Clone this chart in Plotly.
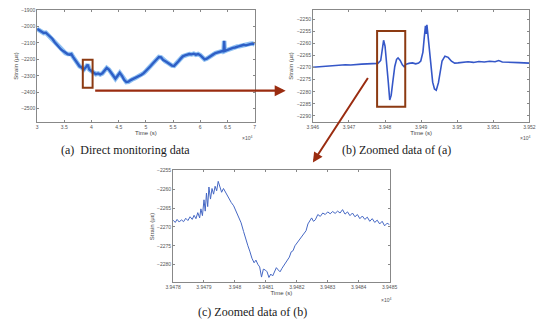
import plotly.graph_objects as go

# ---------------- data ----------------
# (a) direct monitoring data
t_a = [30000, 30400, 30800, 31200, 31600, 32000, 32400, 32800, 33200, 33600, 34000, 34400,
       34800, 35200, 35600, 36000, 36300, 36600, 37000, 37400, 37800, 38200, 38600, 39000,
       39300, 39600, 40000, 40400, 40800, 41200, 41600, 42000, 42400, 42800, 43200, 43600,
       44000, 44400, 44800, 45200, 45600, 46000, 46400, 46800, 47200, 47600, 48000, 48400,
       48800, 49200, 49600, 50000, 50400, 50800, 51200, 51600, 52000, 52400, 52800, 53200,
       53600, 54000, 54400, 54800, 55200, 55600, 56000, 56400, 56800, 57200, 57600, 58000,
       58400, 58800, 59200, 59600, 60000, 60400, 60800, 61200, 61600, 62000, 62400, 62800,
       63200, 63600, 64000, 64300, 64400, 64450, 64500, 64800, 65200, 65600, 66000, 66400,
       66800, 67200, 67600, 68000, 68400, 68800, 69200, 69600, 70000]
s_a = [-2015, -2022, -2030, -2040, -2038, -2052, -2060, -2075, -2095, -2112, -2122, -2140,
       -2150, -2162, -2168, -2172, -2168, -2185, -2205, -2228, -2242, -2250, -2262, -2246,
       -2232, -2262, -2272, -2282, -2290, -2286, -2292, -2285, -2268, -2252, -2262, -2280,
       -2302, -2318, -2300, -2282, -2300, -2325, -2338, -2336, -2326, -2320, -2315, -2308,
       -2302, -2294, -2284, -2272, -2258, -2244, -2228, -2212, -2196, -2186, -2188, -2205,
       -2212, -2220, -2232, -2238, -2240, -2228, -2212, -2196, -2182, -2176, -2172, -2168,
       -2170, -2166, -2172, -2168, -2175, -2188, -2200, -2196, -2186, -2180, -2170, -2162,
       -2158, -2155, -2150, -2148, -2088, -2140, -2150, -2146, -2140, -2136, -2130, -2128,
       -2122, -2120, -2116, -2112, -2115, -2110, -2106, -2104, -2108]

# (b) zoomed data of (a)
t_b = [39460.0, 39461.5, 39463.0, 39464.5, 39466.0, 39467.5, 39469.0, 39470.5, 39472.0, 39473.5,
       39475.0, 39476.5, 39478.0, 39478.8, 39479.3, 39479.6, 39480.0, 39480.4, 39480.9, 39481.3,
       39481.7, 39482.1, 39482.7, 39483.2, 39483.6, 39484.2, 39484.8, 39485.3, 39485.8, 39486.6,
       39487.6, 39488.5, 39489.3, 39489.9, 39490.5, 39490.9, 39491.2, 39491.4, 39491.6, 39491.8,
       39492.0, 39492.3, 39492.7, 39493.2, 39493.7, 39494.2, 39494.8, 39495.3, 39495.8, 39496.6,
       39497.5, 39498.4, 39499.3, 39500.2, 39501.5, 39503.0, 39504.5, 39506.0, 39507.5, 39509.0,
       39510.5, 39511.5, 39512.5, 39514.0, 39515.5, 39517.0, 39518.5, 39520.0]
s_b = [-2269.8, -2269.6, -2269.4, -2269.5, -2269.1, -2269.0, -2268.8, -2268.9, -2268.6, -2268.5,
       -2268.4, -2268.3, -2268.2, -2267.0, -2262.0, -2258.6, -2261.0, -2266.5, -2276.0, -2283.4,
       -2281.5, -2276.5, -2269.5, -2266.5, -2265.9, -2267.0, -2268.8, -2269.6, -2268.6, -2268.2,
       -2268.0, -2268.4, -2268.1, -2267.2, -2263.5, -2257.0, -2252.6, -2256.0, -2252.2, -2255.0,
       -2258.0, -2263.5, -2270.0, -2276.0, -2278.8, -2279.3, -2276.2, -2271.0, -2267.2, -2265.2,
       -2265.7, -2267.3, -2268.1, -2268.0, -2267.7, -2267.5, -2267.8, -2267.4, -2267.6, -2267.3,
       -2267.5, -2267.0, -2267.6, -2267.8, -2267.7, -2267.9, -2268.0, -2268.1]

# (c) zoomed data of (b)
t_c = [39478.00, 39478.07, 39478.13, 39478.20, 39478.27, 39478.34, 39478.41, 39478.48, 39478.55,
       39478.62, 39478.68, 39478.74, 39478.80, 39478.86, 39478.90, 39478.95, 39479.00, 39479.04,
       39479.08, 39479.12, 39479.16, 39479.21, 39479.26, 39479.31, 39479.36, 39479.41, 39479.46,
       39479.52, 39479.57, 39479.63, 39479.68, 39479.73, 39479.80, 39479.88, 39479.96, 39480.04,
       39480.12, 39480.20, 39480.28, 39480.35, 39480.42, 39480.48, 39480.55, 39480.62, 39480.68,
       39480.74, 39480.80, 39480.86, 39480.92, 39480.98, 39481.04, 39481.10, 39481.16, 39481.22,
       39481.28, 39481.34, 39481.40, 39481.46, 39481.52, 39481.58, 39481.64, 39481.70, 39481.76,
       39481.82, 39481.88, 39481.94, 39482.00, 39482.06, 39482.12, 39482.18, 39482.24, 39482.30,
       39482.36, 39482.42, 39482.48, 39482.54, 39482.60, 39482.68, 39482.76, 39482.84, 39482.92,
       39483.00, 39483.08, 39483.16, 39483.24, 39483.32, 39483.40, 39483.48, 39483.56, 39483.64,
       39483.72, 39483.80, 39483.88, 39483.96, 39484.04, 39484.12, 39484.20, 39484.28, 39484.36,
       39484.44, 39484.52, 39484.60, 39484.68, 39484.76, 39484.84, 39484.92, 39485.00]
s_c = [-2268.2, -2268.8, -2268.0, -2268.7, -2268.1, -2268.6, -2267.7, -2268.3, -2267.3, -2268.0,
       -2266.9, -2267.8, -2266.2, -2267.6, -2265.2, -2267.0, -2262.8, -2265.8, -2261.0, -2264.6,
       -2259.4, -2262.6, -2259.8, -2261.3, -2259.2, -2260.4, -2257.9, -2259.9, -2260.8, -2259.8,
       -2260.6, -2261.4, -2262.3, -2263.5, -2264.4, -2266.0, -2267.4, -2268.9, -2271.2, -2273.3,
       -2275.0, -2276.4, -2278.3, -2279.5, -2278.8, -2279.9, -2280.6, -2283.3, -2281.2, -2281.4,
       -2281.9, -2283.4, -2282.5, -2283.0, -2281.7, -2280.8, -2281.4, -2281.9, -2281.0, -2280.2,
       -2279.6, -2278.5, -2278.0, -2276.6, -2276.3, -2275.0, -2274.3, -2273.6, -2272.8, -2272.4,
       -2271.4, -2271.0, -2269.2, -2268.4, -2267.6, -2268.5, -2268.1, -2266.7, -2267.2, -2266.3,
       -2266.7, -2266.0, -2266.5, -2265.9, -2266.4, -2265.8, -2266.3, -2265.4, -2266.6, -2266.0,
       -2267.0, -2266.3, -2267.3, -2266.7, -2267.8, -2267.1, -2268.0, -2267.4, -2268.5, -2267.8,
       -2268.8, -2268.2, -2269.2, -2268.5, -2269.7, -2269.0, -2269.4]

ticks_a_x = [30000, 35000, 40000, 45000, 50000, 55000, 60000, 65000, 70000]
ticks_a_x_text = ["3", "3.5", "4", "4.5", "5", "5.5", "6", "6.5", "7"]
ticks_a_y = [-1900, -2000, -2100, -2200, -2300, -2400, -2500]
ticks_b_x = [39460, 39470, 39480, 39490, 39500, 39510, 39520]
ticks_b_x_text = ["3.946", "3.947", "3.948", "3.949", "3.95", "3.951", "3.952"]
ticks_b_y = [-2250, -2255, -2260, -2265, -2270, -2275, -2280, -2285, -2290]
ticks_c_x = [39478, 39479, 39480, 39481, 39482, 39483, 39484, 39485]
ticks_c_x_text = ["3.9478", "3.9479", "3.948", "3.9481", "3.9482", "3.9483", "3.9484", "3.9485"]
ticks_c_y = [-2255, -2260, -2265, -2270, -2275, -2280]

captions = ["(a)  Direct monitoring data", "(b) Zoomed data of (a)", "(c) Zoomed data of (b)"]

# ---------------- figure ----------------
W, H = 550, 321
def px(x):
    return x / W
def py(y):
    return 1 - y / H

fig = go.Figure()
# light halo under the noisy band of (a)
fig.add_trace(go.Scatter(x=t_a, y=s_a, mode="lines", line=dict(color="#8fc0f2", width=4.6),
                         xaxis="x", yaxis="y", showlegend=False, hoverinfo="skip"))
fig.add_trace(go.Scatter(x=t_a, y=s_a, mode="lines", line=dict(color="#2e5fc6", width=2.4),
                         xaxis="x", yaxis="y", showlegend=False))
fig.add_trace(go.Scatter(x=t_b, y=s_b, mode="lines", line=dict(color="#3557c8", width=1.6),
                         xaxis="x2", yaxis="y2", showlegend=False))
fig.add_trace(go.Scatter(x=t_c, y=s_c, mode="lines", line=dict(color="#4668c4", width=1),
                         xaxis="x3", yaxis="y3", showlegend=False))

tickfont = dict(family="Liberation Sans, Arial", size=5, color="#555")
titlefont = dict(family="Liberation Sans, Arial", size=6, color="#444")
common = dict(showline=True, linecolor="#888", linewidth=0.8, mirror="ticks", ticks="inside",
              ticklen=2, tickcolor="#888", showgrid=False, zeroline=False, tickfont=tickfont)

fig.update_layout(
    width=W, height=H, margin=dict(l=0, r=0, t=0, b=0),
    paper_bgcolor="white", plot_bgcolor="white",
    xaxis=dict(domain=[px(30), px(254)], anchor="y", range=[30000, 70000],
               tickvals=ticks_a_x, ticktext=ticks_a_x_text,
               title=dict(text="Time (s)", font=titlefont, standoff=0), **common),
    yaxis=dict(domain=[py(120), py(7)], anchor="x", range=[-2580, -1900],
               tickvals=ticks_a_y,
               title=dict(text="Strain (με)", font=titlefont, standoff=2), **common),
    xaxis2=dict(domain=[px(314), px(537)], anchor="y2", range=[39460, 39520],
                tickvals=ticks_b_x, ticktext=ticks_b_x_text,
                title=dict(text="Time (s)", font=titlefont, standoff=0), **common),
    yaxis2=dict(domain=[py(120), py(7)], anchor="x2", range=[-2292.5, -2246],
                tickvals=ticks_b_y,
                title=dict(text="Strain (με)", font=titlefont, standoff=2), **common),
    xaxis3=dict(domain=[px(170), px(393)], anchor="y3", range=[39478, 39485],
                tickvals=ticks_c_x, ticktext=ticks_c_x_text,
                title=dict(text="Time (s)", font=titlefont, standoff=0), **common),
    yaxis3=dict(domain=[py(282), py(169)], anchor="x3", range=[-2284.7, -2255],
                tickvals=ticks_c_y,
                title=dict(text="Strain (με)", font=titlefont, standoff=2), **common),
)

box_color = "#8c3a12"
fig.add_shape(type="rect", xref="x", yref="y", x0=38400, x1=40200, y0=-2373, y1=-2202,
              line=dict(color=box_color, width=2))
fig.add_shape(type="rect", xref="x2", yref="y2", x0=39477.8, x1=39485.6, y0=-2286.2, y1=-2254.8,
              line=dict(color=box_color, width=2))

arrow_color = "#9a2c10"
fig.add_annotation(x=px(286), y=py(88.5), xref="paper", yref="paper", ax=-192, ay=0,
                   showarrow=True, arrowhead=2, arrowsize=1, arrowwidth=2.2,
                   arrowcolor=arrow_color, text="")
fig.add_annotation(x=px(314), y=py(161), xref="paper", yref="paper", ax=56, ay=-86,
                   showarrow=True, arrowhead=2, arrowsize=1, arrowwidth=2,
                   arrowcolor=arrow_color, text="")

# exponent labels
for (xx, yy) in [(246, 136), (532, 136), (389, 300)]:
    fig.add_annotation(x=px(xx), y=py(yy), xref="paper", yref="paper", showarrow=False,
                       xanchor="center", yanchor="middle",
                       text="×10<sup>4</sup>", font=dict(family="Liberation Sans, Arial", size=5, color="#555"))

capfont = dict(family="Liberation Serif, Times New Roman, serif", size=12, color="#1a1a1a")
for txt, (xx, yy) in zip(captions, [(121, 148), (400, 148), (252, 312)]):
    fig.add_annotation(x=px(xx), y=py(yy), xref="paper", yref="paper", showarrow=False,
                       xanchor="center", yanchor="middle",
                       text=txt, font=capfont)

fig.write_html("out.html", config={"displayModeBar": False},
               post_script="document.body.style.margin='0px';document.body.style.overflow='hidden';")
